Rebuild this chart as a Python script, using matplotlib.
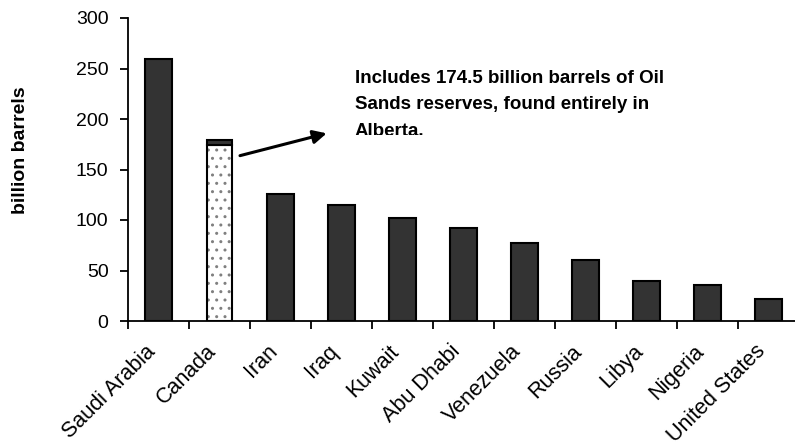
import matplotlib
matplotlib.use("Agg")
import matplotlib.pyplot as plt
import matplotlib.transforms as mtransforms
import numpy as np

plt.rcParams['font.family'] = ['Liberation Sans', 'DejaVu Sans']

countries = ["Saudi Arabia", "Canada", "Iran", "Iraq", "Kuwait", "Abu Dhabi",
             "Venezuela", "Russia", "Libya", "Nigeria", "United States"]
conventional = [259.0, 4.3, 125.8, 115.0, 101.5, 92.2, 77.2, 60.0, 40.0, 35.9, 21.9]
oil_sands = [0, 174.5, 0, 0, 0, 0, 0, 0, 0, 0, 0]
y_ticks = [0, 50, 100, 150, 200, 250, 300]
note = "Includes 174.5 billion barrels of Oil\nSands reserves, found entirely in\nAlberta."

fig = plt.figure(figsize=(7.95, 4.42), dpi=100)
ax = fig.add_axes([128 / 795, 121 / 442, 671 / 795, 303 / 442])

x = np.arange(len(countries))
widths = [0.40 if s > 0 else 0.45 for s in oil_sands]
dark = "#333333"

# oil sands portion: dotted fill, then a separate black outline
ax.bar(x, oil_sands, width=widths, color="white", edgecolor="#808080",
       hatch="..", linewidth=0, zorder=2)
ax.bar(x, oil_sands, width=widths, fill=False, edgecolor="black",
       linewidth=1.5, zorder=3)
# conventional reserves stacked on top
ax.bar(x, conventional, width=widths, bottom=oil_sands, color=dark,
       edgecolor="black", linewidth=1.5, zorder=3)

ax.set_xlim(-0.5, len(countries) - 0.5)
ax.set_ylim(0, 300)
ax.set_yticks(y_ticks)
ax.set_yticklabels([str(v) for v in y_ticks], fontsize=14)

# category names: slanted labels hung just below the axis, left of each bar
ax.set_xticks(x)
ax.set_xticklabels([])
label_trans = ax.get_xaxis_transform() + mtransforms.ScaledTranslation(
    -14 / 100, -20 / 100, fig.dpi_scale_trans)
for xi, name in zip(x, countries):
    ax.text(xi, 0, name, transform=label_trans, fontsize=15.5, rotation=45,
            ha="right", va="top", rotation_mode="anchor", clip_on=False)

ax.set_xticks(np.arange(len(countries) + 1) - 0.5, minor=True)
ax.tick_params(axis="x", which="major", length=0)
ax.tick_params(axis="x", which="minor", length=6, width=1.3, direction="out")
ax.tick_params(axis="y", length=6, width=1.3, direction="out", pad=8)

for side in ("top", "right"):
    ax.spines[side].set_visible(False)
for side in ("left", "bottom"):
    ax.spines[side].set_linewidth(1.3)
ax.spines["bottom"].set_zorder(4)

fig.text(21 / 795, 1 - 150 / 442, "billion barrels", rotation=90,
         fontsize=14, fontweight="bold", ha="center", va="center")

ax.annotate("", xy=(2.757, 185.8), xytext=(1.336, 163.7),
            arrowprops=dict(arrowstyle="-|>,head_length=0.8,head_width=0.4",
                            color="black", lw=2.2, shrinkA=0, shrinkB=0))

# note box: its last line is cut off by the box's lower edge
t = ax.text(3.22, 249, note, fontsize=13.5, fontweight="bold",
            ha="left", va="top", linespacing=1.75)
box = mtransforms.TransformedBbox(mtransforms.Bbox([[3.0, 184.0], [10.5, 300.0]]),
                                  ax.transData)
t.set_clip_on(True)
t.set_clip_path(None)
t.set_clip_box(box)

fig.savefig("out.png", dpi=100)
